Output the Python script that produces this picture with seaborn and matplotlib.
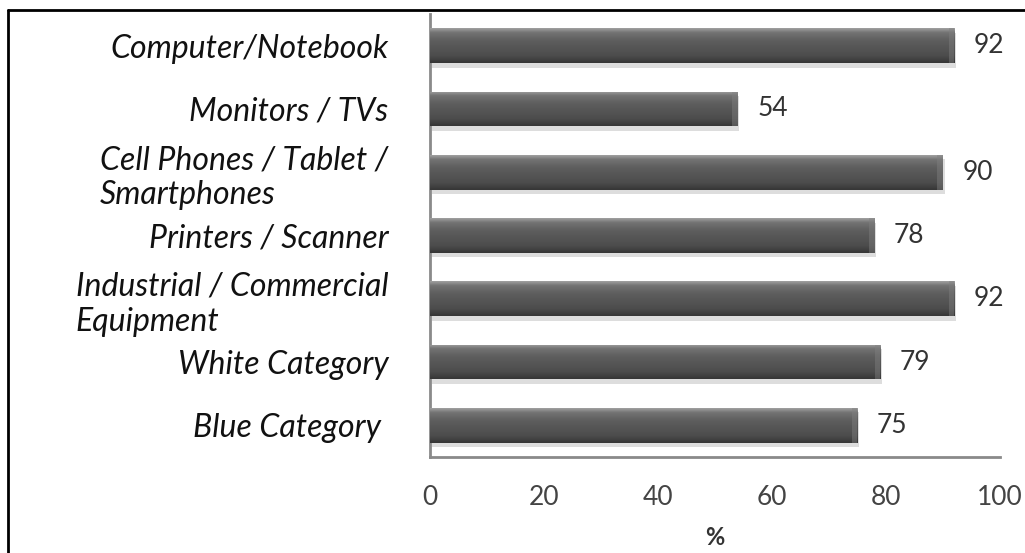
import numpy as np
import pandas as pd
import matplotlib
matplotlib.use('Agg')
import matplotlib.pyplot as plt
from matplotlib.lines import Line2D
from matplotlib.colors import LinearSegmentedColormap
import seaborn as sns

# ========================================
# Данные
# ========================================
categories = [
    'Computer/Notebook',
    'Monitors / TVs',
    'Cell Phones / Tablet /\nSmartphones',
    'Printers / Scanner',
    'Industrial / Commercial\nEquipment',
    'White Category',
    'Blue Category ',
]
values = [92, 54, 90, 78, 92, 79, 75]
x_ticks = [0, 20, 40, 60, 80, 100]
x_label = '%'

df = pd.DataFrame({'category': categories, 'value': values})

# ========================================
# Стиль
# ========================================
sns.set_theme(style='white')
plt.rcParams['font.family'] = ['Lato', 'DejaVu Sans']

fig = plt.figure(figsize=(10.25, 5.53), dpi=100)
ax = fig.add_axes([0.4195, 0.1736, 0.556, 0.801])

sns.barplot(data=df, x='value', y='category', orient='h', color='#555555',
            width=0.55, ax=ax, saturation=1, edgecolor='none')

# Градиент на барах (псевдо-3D)
grad = LinearSegmentedColormap.from_list('bar3d', [
    (0.0, '#a0a0a0'), (0.12, '#737373'), (0.35, '#5e5e5e'),
    (0.8, '#4c4c4c'), (1.0, '#363636')])
gradient = np.linspace(0, 1, 64).reshape(-1, 1)
for p in ax.patches:
    x0, y0 = p.get_x(), p.get_y()
    w, h = p.get_width(), p.get_height()
    # тень
    ax.add_patch(plt.Rectangle((x0 + 0.3, y0 + 0.07), w, h, color='#dddddd',
                               zorder=1.5, lw=0))
    im = ax.imshow(gradient, extent=[x0, x0 + w, y0 + h, y0], cmap=grad,
                   aspect='auto', zorder=3, interpolation='bicubic')
    im.set_clip_path(p)
    # фаска справа
    ax.add_patch(plt.Rectangle((x0 + w - 1.0, y0), 1.0, h, color='#808080',
                               alpha=0.45, zorder=3.5, lw=0))
    p.set_zorder(2)

ax.set_xlim(0, 100)
ax.set_ylim(6.5, -0.5)
ax.set_xticks(x_ticks)

# Подписи значений
ax.bar_label(ax.containers[0], labels=[str(v) for v in values], padding=14,
             fontsize=19, color='#333333')

# Оси
for side in ['top', 'right']:
    ax.spines[side].set_visible(False)
for side in ['left', 'bottom']:
    ax.spines[side].set_color('#8a8a8a')
    ax.spines[side].set_linewidth(2)

ax.tick_params(axis='y', length=0, pad=30, labelsize=23, labelcolor='#111111')
ax.tick_params(axis='x', length=0, pad=20, labelsize=19, labelcolor='#444444')
for lbl in ax.get_yticklabels():
    lbl.set_fontstyle('italic')
    lbl.set_multialignment('left')
    lbl.set_linespacing(1.2)

ax.set_ylabel('')
ax.set_xlabel(x_label, fontsize=17, fontweight='bold', color='#333333',
              labelpad=12)

# Рамка вокруг рисунка
fig.add_artist(Line2D([8 / 1025, 1], [1 - 10 / 553, 1 - 10 / 553],
                      color='black', lw=2, transform=fig.transFigure))
fig.add_artist(Line2D([8 / 1025, 8 / 1025], [0, 1 - 10 / 553],
                      color='black', lw=2, transform=fig.transFigure))

fig.savefig('out.png', dpi=100)
